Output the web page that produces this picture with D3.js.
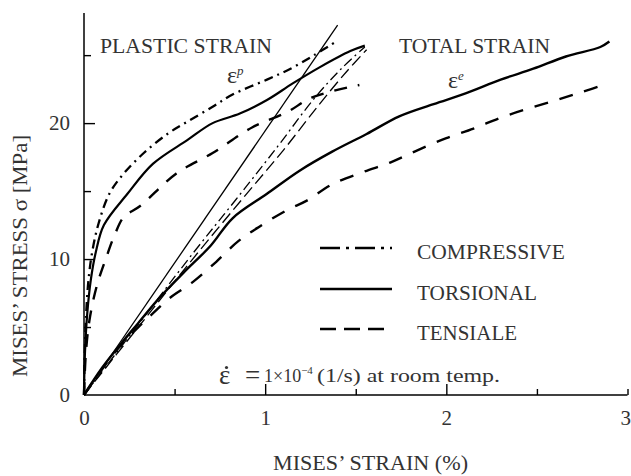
<!DOCTYPE html>
<html>
<head>
<meta charset="utf-8">
<script src="https://cdn.jsdelivr.net/npm/d3@7"></script>
<style>
  html, body { margin: 0; padding: 0; background: #fff; }
  svg { display: block; }
  text { font-family: "Liberation Serif", "Times New Roman", serif; fill: #333; }
</style>
</head>
<body>
<svg id="chart" width="631" height="476"></svg>
<script>
// Axis labels
const strainLabels = [0, 1, 2, 3];
const strainMinor = [0.5, 1.5, 2.5, 3];
const strainMajor = [1, 2];
const stressLabels = [0, 10, 20];
const stressMinor = [5, 15, 25];

// Stress–plastic strain curves  [strain %, stress MPa]
const compressivePlastic = [[0,0],[0.004,3],[0.012,6],[0.025,8.5],[0.045,10.5],[0.08,12.6],[0.14,14.8],[0.22,16.3],[0.33,17.8],[0.46,19.2],[0.57,20.1],[0.71,21.2],[0.82,22.1],[1.01,23.2],[1.14,24.0],[1.27,25.0],[1.38,25.9]];
const torsionalPlastic = [[0,0],[0.005,3],[0.018,6],[0.038,8.5],[0.065,10.5],[0.11,12.5],[0.24,14.8],[0.38,17.0],[0.57,18.75],[0.71,20.0],[0.86,20.7],[1.01,21.7],[1.15,22.9],[1.30,24.1],[1.47,25.3],[1.55,25.7]];
const tensilePlastic = [[0,0],[0.01,3],[0.03,5.5],[0.07,8],[0.12,10],[0.17,11.8],[0.22,13.1],[0.31,13.9],[0.51,16.3],[0.71,17.8],[0.93,19.7],[1.12,20.8],[1.26,21.9],[1.52,22.8]];

// Stress–total strain curves
const torsionalTotal = [[0,0],[0.1,2],[0.2,3.7],[0.3,5.3],[0.42,7.2],[0.55,9],[0.7,11],[0.82,13.0],[1.01,14.8],[1.19,16.5],[1.37,17.9],[1.56,19.2],[1.74,20.5],[1.93,21.4],[2.11,22.2],[2.30,23.2],[2.48,24.0],[2.66,24.9],[2.85,25.6],[2.90,26.0]];
const tensileTotal = [[0,0],[0.1,1.9],[0.2,3.6],[0.3,5.0],[0.38,6.0],[0.47,7.1],[0.60,8.3],[0.73,9.8],[0.85,11.3],[0.97,12.4],[1.12,13.6],[1.23,14.3],[1.37,15.5],[1.54,16.4],[1.69,17.1],[1.84,18.0],[2.0,18.9],[2.15,19.6],[2.30,20.4],[2.46,21.1],[2.61,21.7],[2.75,22.3],[2.89,22.9]];
const compressiveTotal = [[0,0],[0.3,5.2],[0.6,10.4],[0.84,14.4],[1.07,18.3],[1.27,21.8],[1.42,24.0],[1.55,25.6]];
const tensileSecant = [[0,0],[0.3,5.0],[0.6,10.0],[0.86,14.2],[1.10,18.0],[1.30,21.4],[1.45,23.8],[1.56,25.4]];

// Elastic line
const elasticLine = [[0,0],[1.40,27.2]];

// Legend entries
const legendNames = ["COMPRESSIVE", "TORSIONAL", "TENSIALE"];
const legendDash = ["20,6,3,6", null, "16,8"];

const svg = d3.select("#chart");
const x = d3.scaleLinear().domain([0, 3]).range([84, 627.5]);
const y = d3.scaleLinear().domain([0, 28.1]).range([395, 13]);

const line = d3.line().x(d => x(d[0])).y(d => y(d[1])).curve(d3.curveCatmullRom.alpha(0.5));
const straight = d3.line().x(d => x(d[0])).y(d => y(d[1]));

// Axes: labels
const xLab = svg.append("g").attr("transform", "translate(0,395)")
  .call(d3.axisBottom(x).tickValues(strainLabels).tickFormat(d3.format("d")).tickSize(0).tickPadding(15));
xLab.select(".domain").remove();
xLab.selectAll("text").attr("font-size", 21).attr("fill", "#333").attr("font-family", "Liberation Serif");
// last label sits against the right edge
xLab.selectAll("text").filter(d => d === 3).attr("text-anchor", "end").attr("dx", 3);

const yLab = svg.append("g").attr("transform", "translate(84,0)")
  .call(d3.axisLeft(y).tickValues(stressLabels).tickFormat(d3.format("d")).tickSize(0).tickPadding(14));
yLab.select(".domain").remove();
yLab.selectAll("text").attr("font-size", 21).attr("fill", "#333").attr("font-family", "Liberation Serif");

// Axes: inward ticks
function ticks(axis, vals, len, tr) {
  const g = svg.append("g").attr("transform", tr)
    .call(axis.tickValues(vals).tickFormat("").tickSize(-len).tickSizeOuter(0));
  g.select(".domain").remove();
  g.selectAll("line").attr("stroke", "#000").attr("stroke-width", 1.4);
}
ticks(d3.axisBottom(x), strainMajor, 11, "translate(0,395)");
ticks(d3.axisBottom(x), strainMinor, 6, "translate(0,395)");
ticks(d3.axisLeft(y), [10, 20], 11, "translate(84,0)");
ticks(d3.axisLeft(y), stressMinor, 7, "translate(84,0)");

// Axis lines
svg.append("line").attr("x1", x(0)).attr("x2", x(3)).attr("y1", y(0)).attr("y2", y(0)).attr("stroke", "#000").attr("stroke-width", 1.5);
svg.append("line").attr("x1", x(0)).attr("x2", x(0)).attr("y1", y(0)).attr("y2", y(28.1)).attr("stroke", "#000").attr("stroke-width", 1.5);

// Axis titles
svg.append("text").attr("x", 273).attr("y", 470).attr("font-size", 20.5)
  .attr("textLength", 195).attr("lengthAdjust", "spacingAndGlyphs").text("MISES’ STRAIN (%)");
svg.append("text").attr("transform", "translate(27,377) rotate(-90)").attr("font-size", 21)
  .attr("textLength", 242).attr("lengthAdjust", "spacingAndGlyphs").text("MISES’ STRESS σ [MPa]");

// Curves
const curves = svg.append("g").attr("fill", "none").attr("stroke", "#000").attr("stroke-linejoin", "round");
curves.append("path").attr("d", straight(elasticLine)).attr("stroke-width", 1.3);
curves.append("path").attr("d", line(compressiveTotal)).attr("stroke-width", 1.3).attr("stroke-dasharray", "10,4,2,4");
curves.append("path").attr("d", line(tensileSecant)).attr("stroke-width", 1.3).attr("stroke-dasharray", "12,5");
curves.append("path").attr("d", line(compressivePlastic)).attr("stroke-width", 2.3).attr("stroke-dasharray", "9,5,2,5");
curves.append("path").attr("d", line(torsionalPlastic)).attr("stroke-width", 2.2);
curves.append("path").attr("d", line(tensilePlastic)).attr("stroke-width", 2.4).attr("stroke-dasharray", "13,11");
curves.append("path").attr("d", line(torsionalTotal)).attr("stroke-width", 2.4);
curves.append("path").attr("d", line(tensileTotal)).attr("stroke-width", 2.4).attr("stroke-dasharray", "14,12");

// Curve labels
svg.append("text").attr("x", 100).attr("y", 53).attr("font-size", 20.5)
  .attr("textLength", 172).attr("lengthAdjust", "spacingAndGlyphs").text("PLASTIC STRAIN");
svg.append("text").attr("x", 399).attr("y", 53).attr("font-size", 20.5)
  .attr("textLength", 151).attr("lengthAdjust", "spacingAndGlyphs").text("TOTAL STRAIN");
const ep = svg.append("text").attr("x", 227).attr("y", 83).attr("font-size", 24);
ep.append("tspan").text("ε");
ep.append("tspan").attr("font-size", 13).attr("dy", -8).attr("font-style", "italic").text("p");
const ee = svg.append("text").attr("x", 448).attr("y", 88).attr("font-size", 24);
ee.append("tspan").text("ε");
ee.append("tspan").attr("font-size", 13).attr("dy", -8).attr("font-style", "italic").text("e");

// Legend
const lgY = [248, 289, 329];
legendNames.forEach((name, i) => {
  const l = svg.append("line").attr("x1", 320).attr("x2", 392).attr("y1", lgY[i]).attr("y2", lgY[i])
    .attr("stroke", "#000").attr("stroke-width", 2.6);
  if (legendDash[i]) l.attr("stroke-dasharray", legendDash[i]);
  svg.append("text").attr("x", 417).attr("y", lgY[i] + 11).attr("font-size", 21.5)
    .attr("textLength", [148, 120, 100][i]).attr("lengthAdjust", "spacingAndGlyphs").text(name);
});

// Strain-rate note: ε with an overdot, then the rate
svg.append("text").attr("x", 219).attr("y", 384).attr("font-size", 27).text("ε");
svg.append("circle").attr("cx", 226.5).attr("cy", 367.5).attr("r", 1.6).attr("fill", "#333");
svg.append("text").attr("x", 245).attr("y", 384).attr("font-size", 27).text("=");
const note = svg.append("text").attr("x", 264).attr("y", 382).attr("font-size", 18);
note.append("tspan").text("1×10");
note.append("tspan").attr("font-size", 11).attr("dy", -8).text("−4");
svg.append("text").attr("x", 317).attr("y", 382).attr("font-size", 19)
  .attr("textLength", 183).attr("lengthAdjust", "spacingAndGlyphs").text("(1/s) at room temp.");
</script>
</body>
</html>
